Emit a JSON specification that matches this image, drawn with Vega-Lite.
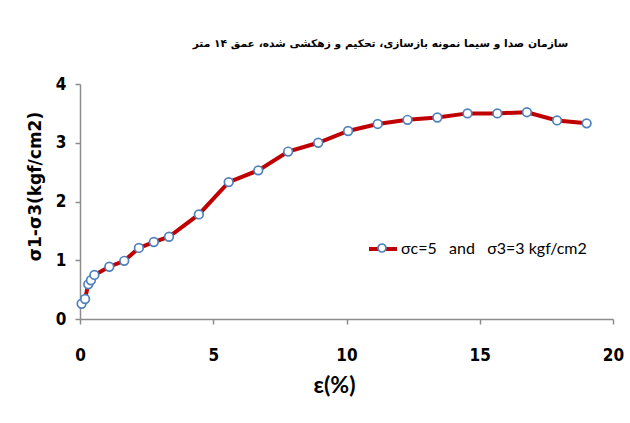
{
  "$schema": "https://vega.github.io/schema/vega-lite/v6.json",
  "width": 533,
  "height": 235,
  "autosize": {"type": "none"},
  "padding": {"left": 80, "top": 84, "right": 17, "bottom": 104},
  "background": "white",
  "config": {"view": {"stroke": null}},
  "title": {
    "text": "سازمان صدا و سیما نمونه بازسازی، تحکیم و زهکشی شده، عمق ۱۴ متر",
    "font": "DejaVu Sans",
    "fontSize": 10.7,
    "fontWeight": "bold",
    "color": "black",
    "anchor": "middle",
    "dx": 34,
    "offset": 25
  },
  "data": {
    "values": [
      {"strain": 0.06, "stress": 0.26, "series": "σc=5\u00a0\u00a0 and \u00a0\u00a0σ3=3 kgf/cm2", "marker": "m"},
      {"strain": 0.19, "stress": 0.34, "series": "σc=5\u00a0\u00a0 and \u00a0\u00a0σ3=3 kgf/cm2", "marker": "m"},
      {"strain": 0.31, "stress": 0.59, "series": "σc=5\u00a0\u00a0 and \u00a0\u00a0σ3=3 kgf/cm2", "marker": "m"},
      {"strain": 0.41, "stress": 0.66, "series": "σc=5\u00a0\u00a0 and \u00a0\u00a0σ3=3 kgf/cm2", "marker": "m"},
      {"strain": 0.54, "stress": 0.75, "series": "σc=5\u00a0\u00a0 and \u00a0\u00a0σ3=3 kgf/cm2", "marker": "m"},
      {"strain": 1.10, "stress": 0.89, "series": "σc=5\u00a0\u00a0 and \u00a0\u00a0σ3=3 kgf/cm2", "marker": "m"},
      {"strain": 1.66, "stress": 0.99, "series": "σc=5\u00a0\u00a0 and \u00a0\u00a0σ3=3 kgf/cm2", "marker": "m"},
      {"strain": 2.21, "stress": 1.21, "series": "σc=5\u00a0\u00a0 and \u00a0\u00a0σ3=3 kgf/cm2", "marker": "m"},
      {"strain": 2.77, "stress": 1.31, "series": "σc=5\u00a0\u00a0 and \u00a0\u00a0σ3=3 kgf/cm2", "marker": "m"},
      {"strain": 3.34, "stress": 1.40, "series": "σc=5\u00a0\u00a0 and \u00a0\u00a0σ3=3 kgf/cm2", "marker": "m"},
      {"strain": 4.46, "stress": 1.78, "series": "σc=5\u00a0\u00a0 and \u00a0\u00a0σ3=3 kgf/cm2", "marker": "m"},
      {"strain": 5.58, "stress": 2.33, "series": "σc=5\u00a0\u00a0 and \u00a0\u00a0σ3=3 kgf/cm2", "marker": "m"},
      {"strain": 6.69, "stress": 2.53, "series": "σc=5\u00a0\u00a0 and \u00a0\u00a0σ3=3 kgf/cm2", "marker": "m"},
      {"strain": 7.81, "stress": 2.85, "series": "σc=5\u00a0\u00a0 and \u00a0\u00a0σ3=3 kgf/cm2", "marker": "m"},
      {"strain": 8.94, "stress": 3.00, "series": "σc=5\u00a0\u00a0 and \u00a0\u00a0σ3=3 kgf/cm2", "marker": "m"},
      {"strain": 10.06, "stress": 3.20, "series": "σc=5\u00a0\u00a0 and \u00a0\u00a0σ3=3 kgf/cm2", "marker": "m"},
      {"strain": 11.17, "stress": 3.32, "series": "σc=5\u00a0\u00a0 and \u00a0\u00a0σ3=3 kgf/cm2", "marker": "m"},
      {"strain": 12.29, "stress": 3.39, "series": "σc=5\u00a0\u00a0 and \u00a0\u00a0σ3=3 kgf/cm2", "marker": "m"},
      {"strain": 13.41, "stress": 3.43, "series": "σc=5\u00a0\u00a0 and \u00a0\u00a0σ3=3 kgf/cm2", "marker": "m"},
      {"strain": 14.54, "stress": 3.50, "series": "σc=5\u00a0\u00a0 and \u00a0\u00a0σ3=3 kgf/cm2", "marker": "m"},
      {"strain": 15.66, "stress": 3.50, "series": "σc=5\u00a0\u00a0 and \u00a0\u00a0σ3=3 kgf/cm2", "marker": "m"},
      {"strain": 16.77, "stress": 3.52, "series": "σc=5\u00a0\u00a0 and \u00a0\u00a0σ3=3 kgf/cm2", "marker": "m"},
      {"strain": 17.90, "stress": 3.38, "series": "σc=5\u00a0\u00a0 and \u00a0\u00a0σ3=3 kgf/cm2", "marker": "m"},
      {"strain": 19.01, "stress": 3.33, "series": "σc=5\u00a0\u00a0 and \u00a0\u00a0σ3=3 kgf/cm2", "marker": "m"}
    ]
  },
  "encoding": {
    "x": {
      "field": "strain",
      "type": "quantitative",
      "scale": {"domain": [0, 20], "nice": false, "zero": false},
      "axis": {
        "title": "ε(%)",
        "values": [0, 5, 10, 15, 20],
        "grid": false,
        "labelFlush": false,
        "domainColor": "#8c8c8c",
        "domainWidth": 1.5,
        "tickColor": "#8c8c8c",
        "tickWidth": 1.5,
        "tickSize": 5,
        "labelPadding": 23,
        "labelFont": "DejaVu Sans Condensed, Lato",
        "labelFontSize": 17,
        "labelFontWeight": "bold",
        "labelColor": "black",
        "titleFont": "Lato",
        "titleFontSize": 23,
        "titleFontWeight": "bold",
        "titleColor": "black",
        "titleX": 254,
        "titleY": 66,
        "titleBaseline": "middle",
        "titleAlign": "center"
      }
    },
    "y": {
      "field": "stress",
      "type": "quantitative",
      "scale": {"domain": [0, 4], "nice": false},
      "axis": {
        "title": "σ1-σ3(kgf/cm2)",
        "values": [0, 1, 2, 3, 4],
        "grid": false,
        "labelFlush": false,
        "domainColor": "#8c8c8c",
        "domainWidth": 1.5,
        "tickColor": "#8c8c8c",
        "tickWidth": 1.5,
        "tickSize": 5,
        "labelPadding": 9,
        "labelFont": "DejaVu Sans Condensed, Lato",
        "labelFontSize": 17,
        "labelFontWeight": "bold",
        "labelColor": "black",
        "titleFont": "DejaVu Sans",
        "titleFontSize": 17,
        "titleFontWeight": "bold",
        "titleColor": "black",
        "titleX": -45,
        "titleY": 102,
        "titleBaseline": "middle",
        "titleAlign": "center",
        "titleAngle": -90
      }
    }
  },
  "resolve": {"scale": {"color": "independent"}, "legend": {"color": "independent"}},
  "layer": [
    {
      "mark": {"type": "line", "strokeWidth": 4, "clip": false},
      "encoding": {
        "color": {
          "field": "series",
          "type": "nominal",
          "scale": {"range": ["#C00000"]},
          "legend": {
            "title": null,
            "orient": "none",
            "legendX": 287,
            "legendY": 149,
            "symbolType": "stroke",
            "symbolSize": 784,
            "symbolStrokeWidth": 4,
            "labelFont": "Lato",
            "labelFontSize": 16,
            "labelColor": "black",
            "labelOffset": 2,
            "labelLimit": 400,
            "padding": 0
          }
        }
      }
    },
    {
      "mark": {"type": "point", "filled": false, "fill": "white", "fillOpacity": 1, "strokeWidth": 1.7, "size": 75, "opacity": 1, "clip": false},
      "encoding": {
        "color": {
          "field": "marker",
          "type": "nominal",
          "scale": {"range": ["#4F81BD"]},
          "legend": {
            "title": null,
            "orient": "none",
            "legendX": 297,
            "legendY": 159,
            "labelExpr": "''",
            "symbolType": "circle",
            "symbolSize": 64,
            "symbolFillColor": "white",
            "symbolStrokeColor": "#4F81BD",
            "symbolStrokeWidth": 1.7,
            "symbolOpacity": 1,
            "padding": 0
          }
        }
      }
    }
  ]
}
